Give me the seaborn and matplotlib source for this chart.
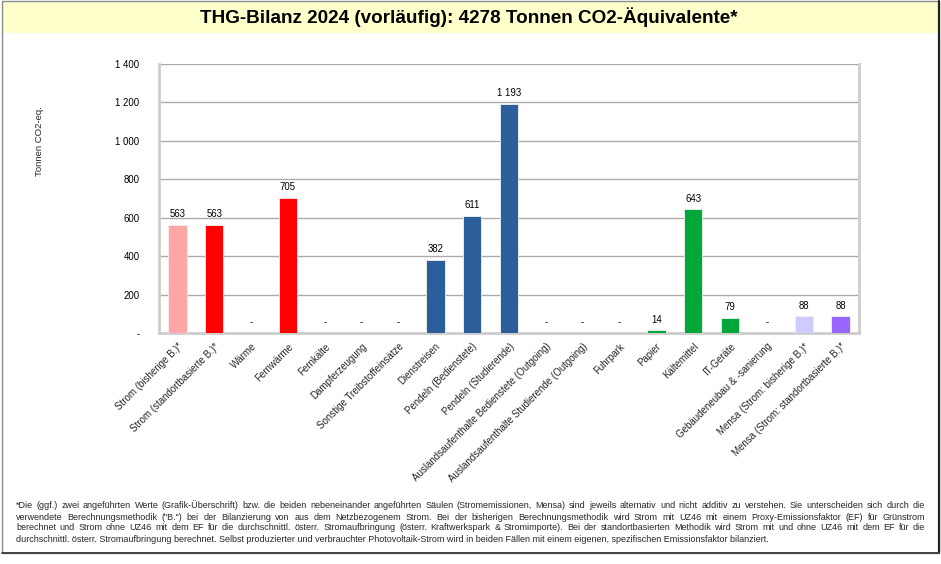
import matplotlib
matplotlib.use("Agg")
import matplotlib.pyplot as plt
import seaborn as sns
import pandas as pd
from matplotlib.patches import Rectangle
from matplotlib.lines import Line2D
from matplotlib.ticker import FixedLocator

categories = [
    "Strom (bisherige B.)*", "Strom (standortbasierte B.)*", "Wärme", "Fernwärme",
    "Fernkälte", "Dampferzeugung", "Sonstige Treibstoffeinsätze", "Dienstreisen",
    "Pendeln (Bedienstete)", "Pendeln (Studierende)",
    "Auslandsaufenthalte Bedienstete (Outgoing)",
    "Auslandsaufenthalte Studierende (Outgoing)", "Fuhrpark", "Papier",
    "Kältemittel", "IT-Geräte", "Gebäudeneubau & -sanierung",
    "Mensa (Strom: bisherige B.)*", "Mensa (Strom: standortbasierte B.)*",
]
values = [563, 563, 0, 705, 0, 0, 0, 382, 611, 1193, 0, 0, 0, 14, 643, 79, 0, 88, 88]
colors = ["#FFA6A6", "#FF0000", "#FF0000", "#FF0000", "#FF0000", "#FF0000", "#FF0000",
          "#2C5F9A", "#2C5F9A", "#2C5F9A", "#2C5F9A", "#2C5F9A", "#2C5F9A",
          "#00A83A", "#00A83A", "#00A83A", "#00A83A", "#CCCCFF", "#9966FF"]
yticks = [0, 200, 400, 600, 800, 1000, 1200, 1400]
title = "THG-Bilanz 2024 (vorläufig): 4278 Tonnen CO2-Äquivalente*"
ylabel = "Tonnen CO2-eq."
footnote = [
    "*Die (ggf.) zwei angeführten Werte (Grafik-Überschrift) bzw. die beiden nebeneinander angeführten Säulen (Stromemissionen, Mensa) sind jeweils alternativ und nicht additiv zu verstehen. Sie unterscheiden sich durch die",
    "verwendete Berechnungsmethodik (\"B.\") bei der Bilanzierung von aus dem Netzbezogenem Strom. Bei der bisherigen Berechnungsmethodik wird Strom mit UZ46 mit einem Proxy-Emissionsfaktor (EF) für Grünstrom",
    "berechnet und Strom ohne UZ46 mit dem EF für die durchschnittl. österr. Stromaufbringung (österr. Kraftwerkspark & Stromimporte). Bei der standortbasierten Methodik wird Strom mit und ohne UZ46 mit dem EF für die",
    "durchschnittl. österr. Stromaufbringung berechnet. Selbst produzierter und verbrauchter Photovoltaik-Strom wird in beiden Fällen mit einem eigenen, spezifischen Emissionsfaktor bilanziert.",
]

def fmt(v):
    return "-" if v == 0 else f"{v:,}".replace(",", " ")

sns.set_style("white")
plt.rcParams["font.family"] = ["Liberation Sans", "DejaVu Sans"]

W, H = 941, 564
fig = plt.figure(figsize=(W / 100, H / 100), dpi=100)

# frame and title band
fig.patches.append(Rectangle((2 / W, 1 - 33 / H), 937 / W, 32 / H, transform=fig.transFigure,
                             facecolor="#FFFFCC", edgecolor="none", zorder=0))
fig.patches.append(Rectangle((2 / W, 1 - 553 / H), 937 / W, 552 / H, transform=fig.transFigure,
                             facecolor="none", edgecolor="#8C8C8C", lw=1, zorder=1))
fig.lines.append(Line2D([939 / W, 939 / W], [1 - 553 / H, 1 - 1 / H], transform=fig.transFigure,
                        color="#222222", lw=1.6))
fig.lines.append(Line2D([2 / W, 939 / W], [1 - 553 / H, 1 - 553 / H], transform=fig.transFigure,
                        color="#444444", lw=1.4))
fig.text(469 / W, 1 - 17 / H, title, ha="center", va="center", fontsize=13.6,
         fontweight="bold", color="black")

ax = fig.add_axes([159 / W, (H - 333) / H, 700 / W, 269 / H])
df = pd.DataFrame({"cat": categories, "val": values})
pal = dict(zip(categories, colors))
sns.barplot(data=df, x="cat", y="val", hue="cat", palette=pal, legend=False,
            width=0.5, saturation=1, ax=ax, edgecolor="#F2F2F2", linewidth=0.6, zorder=3)

ax.set_ylim(0, 1400)
ax.set_xlim(-0.5, len(categories) - 0.5)
ax.set_yticks(yticks)
ax.set_yticklabels([fmt(v) for v in yticks], fontsize=6.9)
ax.yaxis.grid(True, color="#ABABAB", lw=1, zorder=0)
ax.set_axisbelow(True)
for s in ["left", "bottom", "right"]:
    ax.spines[s].set_color("#CDCDCD")
    ax.spines[s].set_linewidth(2)
ax.spines["top"].set_visible(False)
ax.tick_params(axis="y", length=3, width=1, color="#BDBDBD", pad=11, labelcolor="black")

ax.set_xticks(range(len(categories)))
ax.set_xticklabels(categories, rotation=45, ha="right", va="top", rotation_mode="anchor",
                   fontsize=7)
ax.tick_params(axis="x", which="major", length=0, pad=6)
ax.xaxis.set_minor_locator(FixedLocator([i - 0.5 for i in range(len(categories) + 1)]))
ax.tick_params(axis="x", which="minor", length=4, width=1, color="#BDBDBD")
ax.set_xlabel("")
ax.set_ylabel("")

for i, v in enumerate(values):
    ax.annotate(fmt(v), (i, v), xytext=(0, 4), textcoords="offset points",
                ha="center", va="bottom", fontsize=6.9, color="black")

fig.text(40 / W, 1 - 141 / H, ylabel, rotation=90, ha="center", va="center", fontsize=6.8)

# footnote, justified lines
fig.canvas.draw()
renderer = fig.canvas.get_renderer()
x_left, x_right = 16, 925
line_y = [505, 517, 528, 540]
fs = 6.5
for li, (line, ypx) in enumerate(zip(footnote, line_y)):
    yf = 1 - ypx / H
    if li == len(footnote) - 1:
        fig.text(x_left / W, yf, line, ha="left", va="center", fontsize=fs)
        continue
    words = line.split(" ")
    texts = [fig.text(0, yf, w, ha="left", va="center", fontsize=fs) for w in words]
    widths = [t.get_window_extent(renderer).width for t in texts]
    gap = (x_right - x_left - sum(widths)) / (len(words) - 1)
    x = x_left
    for t, w in zip(texts, widths):
        t.set_x(x / W)
        x += w + gap

fig.savefig("out.png", dpi=100)
